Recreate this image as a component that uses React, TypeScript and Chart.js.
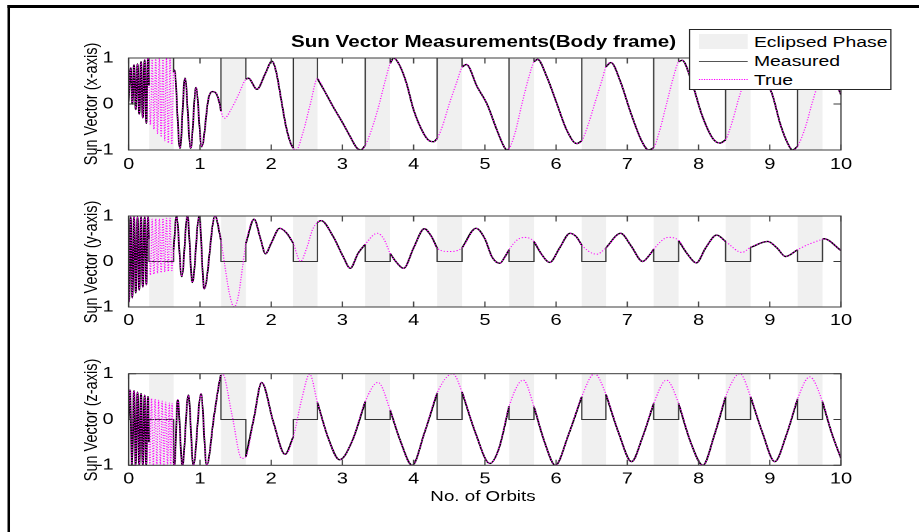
import React, { useEffect, useRef } from "react";
import { Chart, registerables } from "chart.js";

Chart.register(...registerables);

// ---------------- data ----------------
const eclipseStart = [0.285, 1.295, 2.31, 3.32, 4.33, 5.34, 6.36, 7.37, 8.38, 9.39];
const eclipseEnd = [0.63, 1.645, 2.65, 3.67, 4.68, 5.69, 6.7, 7.72, 8.73, 9.74];

const orbitTicks = [0, 1, 2, 3, 4, 5, 6, 7, 8, 9, 10];
const vectorTicks = [-1, 0, 1];

// measured value held during eclipse for x, y, z
const eclipsedMeasured = [1, 0, 0];

const axisTitles = ["Sun Vector (x-axis)", "Sun Vector (y-axis)", "Sun Vector (z-axis)"];

const sunXOrbit = [
  0, 0.028, 0.051, 0.075, 0.099, 0.124, 0.148, 0.173, 0.197, 0.223,
  0.247, 0.27, 0.285, 0.305, 0.33, 0.355, 0.38, 0.405, 0.43, 0.455,
  0.48, 0.505, 0.53, 0.555, 0.58, 0.605, 0.63, 0.641, 0.72, 0.79,
  0.87, 0.945, 1.025, 1.12, 1.175, 1.235, 1.28, 1.295, 1.343, 1.446,
  1.54, 1.645, 1.68, 1.8, 1.92, 2.01, 2.07, 2.14, 2.21, 2.28,
  2.31, 2.35, 2.45, 2.55, 2.65, 2.75, 2.87, 3.0, 3.11, 3.2,
  3.26, 3.32, 3.4, 3.5, 3.6, 3.67, 3.72, 3.8, 3.9, 4.0,
  4.14, 4.22, 4.28, 4.33, 4.4, 4.5, 4.6, 4.68, 4.74, 4.89,
  5.03, 5.17, 5.27, 5.31, 5.34, 5.42, 5.52, 5.62, 5.69, 5.74,
  5.87, 6.01, 6.15, 6.29, 6.36, 6.45, 6.55, 6.65, 6.7, 6.77,
  6.9, 7.05, 7.2, 7.3, 7.37, 7.45, 7.55, 7.65, 7.72, 7.77,
  7.9, 8.05, 8.2, 8.3, 8.38, 8.47, 8.57, 8.67, 8.73, 8.78,
  8.9, 9.03, 9.15, 9.25, 9.32, 9.39, 9.5, 9.6, 9.74, 9.8,
  9.9, 10,
];
const sunXTrue = [
  0.05, 0.79, 0.0, 0.85, -0.12, 0.87, -0.22, 0.92, -0.3, 0.96,
  -0.42, 1.0, 0.4, -0.45, 0.97, -0.55, 0.98, -0.65, 0.99, -0.72,
  1.0, -0.8, 1.0, -0.85, 1.0, -0.88, 0.7, 0.74, -0.96, 0.56,
  -0.96, 0.36, -0.93, 0.12, 0.27, 0.21, -0.02, -0.15, -0.31, -0.09,
  0.2, 0.54, 0.56, 0.32, 0.67, 0.93, 0.7, 0.1, -0.5, -0.88,
  -0.96, -1.0, -0.6, 0.0, 0.55, 0.28, -0.06, -0.4, -0.71, -0.95,
  -1.0, -0.9, -0.6, -0.1, 0.5, 0.88, 1.0, 0.85, 0.45, -0.13,
  -0.64, -0.8, -0.82, -0.75, -0.5, 0.0, 0.45, 0.8, 0.86, 0.38,
  0.0, -0.57, -0.93, -1.0, -0.97, -0.65, 0.0, 0.6, 0.92, 0.97,
  0.59, 0.01, -0.57, -0.86, -0.8, -0.45, 0.05, 0.55, 0.81, 0.9,
  0.5, -0.2, -0.8, -1.0, -0.95, -0.6, 0.0, 0.6, 0.92, 0.95,
  0.5, -0.25, -0.75, -0.85, -0.78, -0.4, 0.15, 0.6, 0.85, 0.9,
  0.6, 0.23, -0.45, -0.85, -1.0, -0.92, -0.5, 0.05, 0.7, 0.8,
  0.55, 0.2,
];

const sunYOrbit = [
  0, 0.005, 0.028, 0.051, 0.075, 0.099, 0.124, 0.148, 0.173, 0.197,
  0.223, 0.247, 0.27, 0.285, 0.305, 0.33, 0.355, 0.38, 0.405, 0.43,
  0.455, 0.48, 0.505, 0.53, 0.555, 0.58, 0.605, 0.63, 0.67, 0.745,
  0.824, 0.894, 0.99, 1.06, 1.212, 1.295, 1.35, 1.42, 1.48, 1.54,
  1.6, 1.645, 1.76, 1.85, 1.92, 2.0, 2.12, 2.22, 2.31, 2.41,
  2.5, 2.58, 2.65, 2.7, 2.87, 3.01, 3.11, 3.22, 3.32, 3.49,
  3.58, 3.67, 3.75, 3.86, 4.0, 4.15, 4.25, 4.33, 4.5, 4.68,
  4.876, 5.0, 5.1, 5.21, 5.28, 5.34, 5.45, 5.56, 5.69, 5.8,
  5.91, 6.05, 6.195, 6.28, 6.36, 6.57, 6.7, 6.907, 7.05, 7.216,
  7.3, 7.37, 7.576, 7.72, 7.85, 7.97, 8.1, 8.255, 8.38, 8.61,
  8.73, 8.97, 9.1, 9.22, 9.39, 9.55, 9.74, 9.76, 10,
];
const sunYTrue = [
  -0.18, -0.89, 0.98, -0.8, 0.98, -0.69, 0.98, -0.63, 0.98, -0.56,
  0.98, -0.51, 0.98, 0.5, -0.3, 0.93, -0.28, 0.94, -0.26, 0.94,
  -0.25, 0.95, -0.23, 0.95, -0.22, 0.95, -0.2, 0.25, 1.0, -0.33,
  1.0, -0.46, 1.0, -0.6, 1.0, 0.47, -0.1, -0.75, -1.0, -0.75,
  -0.1, 0.4, 0.93, 0.5, 0.17, 0.4, 0.73, 0.62, 0.4, 0.0,
  0.3, 0.7, 0.86, 0.9, 0.55, 0.11, -0.15, 0.18, 0.38, 0.62,
  0.5, 0.18, 0.0, -0.15, 0.3, 0.72, 0.55, 0.29, 0.22, 0.3,
  0.73, 0.5, 0.1, -0.04, 0.1, 0.26, 0.47, 0.53, 0.44, 0.15,
  -0.02, 0.3, 0.62, 0.55, 0.36, 0.16, 0.3, 0.62, 0.35, 0.0,
  0.12, 0.27, 0.53, 0.46, 0.15, -0.03, 0.3, 0.58, 0.44, 0.2,
  0.31, 0.44, 0.3, 0.11, 0.26, 0.38, 0.49, 0.5, 0.24,
];

const sunZOrbit = [
  0, 0.019, 0.045, 0.075, 0.097, 0.124, 0.148, 0.173, 0.197, 0.223,
  0.245, 0.27, 0.285, 0.295, 0.32, 0.345, 0.37, 0.395, 0.42, 0.445,
  0.47, 0.495, 0.52, 0.545, 0.57, 0.59, 0.61, 0.63, 0.641, 0.688,
  0.753, 0.838, 0.908, 1.015, 1.095, 1.2, 1.29, 1.295, 1.315, 1.45,
  1.586, 1.645, 1.76, 1.866, 2.03, 2.195, 2.31, 2.43, 2.54, 2.65,
  2.8, 2.96, 3.14, 3.32, 3.5, 3.67, 3.81, 3.98, 4.15, 4.33,
  4.55, 4.68, 4.87, 5.07, 5.2, 5.34, 5.54, 5.69, 5.84, 5.99,
  6.17, 6.36, 6.54, 6.7, 6.88, 7.06, 7.21, 7.37, 7.55, 7.72,
  7.89, 8.06, 8.22, 8.38, 8.58, 8.73, 8.9, 9.07, 9.23, 9.39,
  9.56, 9.74, 9.87, 10,
];
const sunZTrue = [
  0.0, 0.64, -1.0, 0.63, -1.0, 0.6, -1.0, 0.57, -1.0, 0.53,
  -1.0, 0.5, -0.5, -1.0, 0.46, -1.0, 0.44, -1.0, 0.42, -1.0,
  0.4, -1.0, 0.38, -1.0, 0.36, -1.0, 0.35, -0.9, -1.0, 0.43,
  -1.0, 0.53, -1.0, 0.56, -1.0, 0.1, 0.95, 0.97, 1.0, 0.1,
  -0.85, -0.81, 0.05, 0.81, -0.05, -0.76, -0.38, 0.45, 0.99, 0.37,
  -0.4, -0.88, -0.46, 0.39, 0.81, 0.21, -0.45, -1.0, -0.3, 0.58,
  1.0, 0.6, -0.3, -0.96, -0.62, 0.29, 0.86, 0.28, -0.5, -1.0,
  -0.35, 0.5, 1.0, 0.55, -0.3, -0.92, -0.4, 0.35, 0.86, 0.35,
  -0.5, -1.0, -0.35, 0.5, 1.0, 0.5, -0.3, -0.92, -0.35, 0.45,
  0.93, 0.39, -0.3, -0.85,
];

const orbitSets = [sunXOrbit, sunYOrbit, sunZOrbit];
const trueSets = [sunXTrue, sunYTrue, sunZTrue];

// ---------------- layout (inner, un-stretched coordinates) ----------------
const FONT = "'Liberation Sans', Arial, Helvetica, sans-serif";
const INNER_W = 735;
const INNER_H = 532;
const STRETCH = 919 / INNER_W;
const PLOT_LEFT = 128.7 / STRETCH;
const PLOT_RIGHT = 841 / STRETCH;
const PLOT_TOPS = [58, 216, 373.7];
const PLOT_BOTTOMS = [150, 307, 465.3];
const X_TICK_PAD = [-3, -4, -3.8];
const Y_AXIS_W = 40;
const X_AXIS_H = 30;
const PATCH_COLOR = "#f0f0f0";
const AXIS_COLOR = "#3a3a3a";

function buildSeries(orbit: number[], values: number[], eclVal: number) {
  const eps = 1e-6;
  const truth = orbit.map((x, i) => ({ x, y: values[i] }));
  const valueAt = (t: number) => {
    let best = 0;
    orbit.forEach((o, i) => {
      if (Math.abs(o - t) < Math.abs(orbit[best] - t)) best = i;
    });
    return values[best];
  };
  const arcs: { x: number; y: number | null }[] = [];
  orbit.forEach((x, i) => {
    const inside = eclipseStart.some((s, k) => x > s + eps && x < eclipseEnd[k] - eps);
    if (inside) return;
    arcs.push({ x, y: values[i] });
    if (eclipseStart.some((s) => Math.abs(s - x) < eps)) arcs.push({ x, y: null });
  });
  const steps: { x: number; y: number | null }[] = [];
  eclipseStart.forEach((s, k) => {
    const e = eclipseEnd[k];
    steps.push(
      { x: s, y: valueAt(s) },
      { x: s, y: eclVal },
      { x: e, y: eclVal },
      { x: e, y: valueAt(e) },
      { x: e, y: null }
    );
  });
  return { truth, arcs, steps };
}

const matlabAxes = {
  id: "matlabAxes",
  beforeDatasetsDraw(chart: any) {
    const { ctx, chartArea: a, scales } = chart;
    const xs = scales.x;
    ctx.save();
    ctx.fillStyle = PATCH_COLOR;
    eclipseStart.forEach((s, k) => {
      const x0 = xs.getPixelForValue(s);
      const x1 = xs.getPixelForValue(eclipseEnd[k]);
      ctx.fillRect(x0, a.top, x1 - x0, a.bottom - a.top);
    });
    ctx.restore();
  },
  afterDatasetsDraw(chart: any) {
    const { ctx, chartArea: a, scales } = chart;
    const xs = scales.x;
    const ys = scales.y;
    ctx.save();
    ctx.strokeStyle = AXIS_COLOR;
    ctx.lineWidth = 1;
    ctx.beginPath();
    orbitTicks.forEach((v) => {
      const px = xs.getPixelForValue(v);
      ctx.moveTo(px, a.bottom);
      ctx.lineTo(px, a.bottom - 5.5);
      ctx.moveTo(px, a.top);
      ctx.lineTo(px, a.top + 5.5);
    });
    vectorTicks.forEach((v) => {
      const py = ys.getPixelForValue(v);
      ctx.moveTo(a.left, py);
      ctx.lineTo(a.left + 6, py);
      ctx.moveTo(a.right, py);
      ctx.lineTo(a.right - 6, py);
    });
    ctx.stroke();
    ctx.strokeRect(a.left, a.top, a.right - a.left, a.bottom - a.top);
    ctx.restore();
  },
};

function buildConfig(idx: number): any {
  const { truth, arcs, steps } = buildSeries(orbitSets[idx], trueSets[idx], eclipsedMeasured[idx]);
  const top = PLOT_TOPS[idx];
  const bottom = PLOT_BOTTOMS[idx];
  return {
    type: "line",
    data: {
      datasets: [
        {
          label: "True",
          data: truth,
          borderColor: "#ff00ff",
          borderWidth: 1,
          borderDash: [1, 1.6],
          pointRadius: 0,
          cubicInterpolationMode: "monotone",
          fill: false,
        },
        {
          label: "Measured",
          data: arcs,
          borderColor: "#000000",
          borderWidth: 1.4,
          pointRadius: 0,
          cubicInterpolationMode: "monotone",
          spanGaps: false,
          fill: false,
        },
        {
          label: "Measured (eclipse)",
          data: steps,
          borderColor: "#333333",
          borderWidth: 1,
          pointRadius: 0,
          tension: 0,
          spanGaps: false,
          fill: false,
        },
      ],
    },
    options: {
      animation: false,
      responsive: false,
      devicePixelRatio: 2,
      events: [],
      layout: {
        padding: {
          left: PLOT_LEFT - Y_AXIS_W,
          right: INNER_W - PLOT_RIGHT,
          top: top,
          bottom: INNER_H - bottom - X_AXIS_H,
        },
      },
      plugins: { legend: { display: false }, tooltip: { enabled: false }, title: { display: false } },
      scales: {
        x: {
          type: "linear",
          min: 0,
          max: 10,
          grid: { display: false },
          border: { display: false },
          afterBuildTicks: (s: any) => {
            s.ticks = orbitTicks.map((v) => ({ value: v }));
          },
          ticks: {
            color: "#000",
            font: { family: FONT, size: 16 },
            padding: X_TICK_PAD[idx],
            maxRotation: 0,
            autoSkip: false,
          },
          afterFit: (s: any) => {
            s.height = X_AXIS_H;
          },
        },
        y: {
          type: "linear",
          min: -1,
          max: 1,
          grid: { display: false },
          border: { display: false },
          afterBuildTicks: (s: any) => {
            s.ticks = vectorTicks.map((v) => ({ value: v }));
          },
          ticks: {
            color: "#000",
            font: { family: FONT, size: 16 },
            padding: 4,
          },
          afterFit: (s: any) => {
            s.width = Y_AXIS_W;
          },
        },
      },
    },
    plugins: [matlabAxes],
  };
}

function SubPlot({ idx }: { idx: number }) {
  const ref = useRef<HTMLCanvasElement | null>(null);
  useEffect(() => {
    if (!ref.current) return;
    const chart = new Chart(ref.current, buildConfig(idx));
    return () => chart.destroy();
  }, [idx]);
  return (
    <canvas
      ref={ref}
      width={INNER_W}
      height={INNER_H}
      style={{ position: "absolute", left: 0, top: 0 }}
    />
  );
}

const ylabelCenterX = 91 / STRETCH;

export default function App() {
  const legendLeft = 688.7 / STRETCH;
  const legendWidth = (892 - 688.7) / STRETCH;
  return (
    <div
      style={{
        position: "absolute",
        left: 0,
        top: 0,
        width: 919,
        height: 532,
        overflow: "hidden",
        background: "#ffffff",
      }}
    >
      <div
        style={{
          position: "absolute",
          left: 0,
          top: 0,
          width: INNER_W,
          height: INNER_H,
          transform: `scaleX(${STRETCH})`,
          transformOrigin: "0 0",
          fontFamily: FONT,
          color: "#000",
        }}
      >
        {/* figure frame */}
        <div style={{ position: "absolute", left: 7 / STRETCH, top: 5, width: INNER_W, height: 3, background: "#000" }} />
        <div style={{ position: "absolute", left: 7 / STRETCH, top: 5, width: 3 / STRETCH, height: INNER_H, background: "#000" }} />

        {[0, 1, 2].map((i) => (
          <SubPlot key={i} idx={i} />
        ))}

        {/* title */}
        <div
          style={{
            position: "absolute",
            left: 483.5 / STRETCH,
            top: 41,
            transform: "translate(-50%, -50%)",
            fontWeight: "bold",
            fontSize: 16.5,
            lineHeight: 1,
            whiteSpace: "nowrap",
          }}
        >
          Sun Vector Measurements(Body frame)
        </div>

        {/* y-axis labels */}
        {axisTitles.map((t, i) => (
          <div
            key={t}
            style={{
              position: "absolute",
              left: ylabelCenterX,
              top: (PLOT_TOPS[i] + PLOT_BOTTOMS[i]) / 2,
              transform: "translate(-50%, -50%) rotate(-90deg)",
              fontSize: 14.5,
              lineHeight: 1,
              whiteSpace: "nowrap",
            }}
          >
            {t}
          </div>
        ))}

        {/* x-axis label */}
        <div
          style={{
            position: "absolute",
            left: 483 / STRETCH,
            top: 495,
            transform: "translate(-50%, -50%)",
            fontSize: 15,
            lineHeight: 1,
            whiteSpace: "nowrap",
          }}
        >
          No. of Orbits
        </div>

        {/* legend */}
        <div
          style={{
            position: "absolute",
            left: legendLeft,
            top: 29,
            width: legendWidth,
            height: 61,
            boxSizing: "border-box",
            border: "1px solid #262626",
            background: "#ffffff",
          }}
        >
          <div style={{ position: "absolute", left: 6.9, top: 4.3, width: 39.5, height: 14.4, background: PATCH_COLOR }} />
          <div style={{ position: "absolute", left: 6.9, top: 30.8, width: 39.5, height: 0, borderTop: "1px solid #555" }} />
          <div style={{ position: "absolute", left: 6.9, top: 49.2, width: 39.5, height: 0, borderTop: "1px dotted #ff00ff" }} />
          {["Eclipsed Phase", "Measured", "True"].map((t, i) => (
            <div
              key={t}
              style={{
                position: "absolute",
                left: 51.2,
                top: [11.7, 31.3, 50][i] - 9,
                height: 18,
                lineHeight: "18px",
                fontSize: 15.5,
                whiteSpace: "nowrap",
              }}
            >
              {t}
            </div>
          ))}
        </div>
      </div>
    </div>
  );
}
